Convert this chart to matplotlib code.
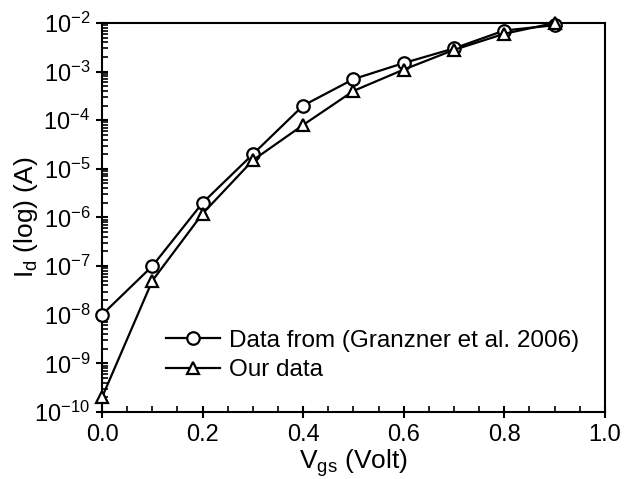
import matplotlib
matplotlib.use("Agg")
import matplotlib.pyplot as plt
from matplotlib.ticker import LogLocator, MultipleLocator, NullFormatter, FormatStrFormatter

plt.rcParams['font.family'] = ['Liberation Sans', 'DejaVu Sans']
plt.rcParams['mathtext.fontset'] = 'custom'
plt.rcParams['mathtext.rm'] = 'Liberation Sans'
plt.rcParams['mathtext.it'] = 'Liberation Sans:italic'
plt.rcParams['mathtext.bf'] = 'Liberation Sans:bold'

vgs = [0.0, 0.1, 0.2, 0.3, 0.4, 0.5, 0.6, 0.7, 0.8, 0.9]
id_granzner = [1e-8, 1e-7, 2e-6, 2e-5, 2e-4, 7e-4, 1.5e-3, 3e-3, 7e-3, 9e-3]
id_ours = [2e-10, 5e-8, 1.2e-6, 1.5e-5, 8e-5, 4e-4, 1.1e-3, 2.8e-3, 6e-3, 1e-2]
labels = ['Data from (Granzner et al. 2006)', 'Our data']

fig = plt.figure(figsize=(6.3, 4.79), dpi=100)
ax = fig.add_axes([0.162, 0.140, 0.798, 0.812])

ax.plot(vgs, id_granzner, color='black', lw=1.6, marker='o', ms=9,
        mfc='white', mec='black', mew=1.6, label=labels[0], clip_on=False, zorder=3)
ax.plot(vgs, id_ours, color='black', lw=1.6, marker='^', ms=9,
        mfc='white', mec='black', mew=1.6, label=labels[1], clip_on=False, zorder=3)

ax.set_yscale('log')
ax.set_xlim(0.0, 1.0)
ax.set_ylim(1e-10, 1e-2)
ax.xaxis.set_major_locator(MultipleLocator(0.2))
ax.xaxis.set_minor_locator(MultipleLocator(0.05))
ax.xaxis.set_major_formatter(FormatStrFormatter('%.1f'))
ax.yaxis.set_major_locator(LogLocator(base=10, numticks=20))
ax.yaxis.set_minor_locator(LogLocator(base=10, subs=range(2, 10), numticks=20))
ax.yaxis.set_minor_formatter(NullFormatter())

ax.tick_params(which='major', direction='inout', length=9, width=1.5, labelsize=17,
               top=False, right=False, pad=4)
ax.tick_params(which='minor', direction='in', length=4, width=1.2, top=False, right=False)
for s in ax.spines.values():
    s.set_linewidth(1.5)

ax.set_xlabel(r'V$_{\rm gs}$ (Volt)', fontsize=19, labelpad=1)
ax.set_ylabel(r'I$_{\rm d}$ (log) (A)', fontsize=19, labelpad=-4)

ax.legend(loc='lower left', bbox_to_anchor=(0.108, 0.054), frameon=False,
          fontsize=17.5, handlelength=2.2, handletextpad=0.4, labelspacing=0.3,
          borderaxespad=0)

fig.savefig('out.png', dpi=100)
